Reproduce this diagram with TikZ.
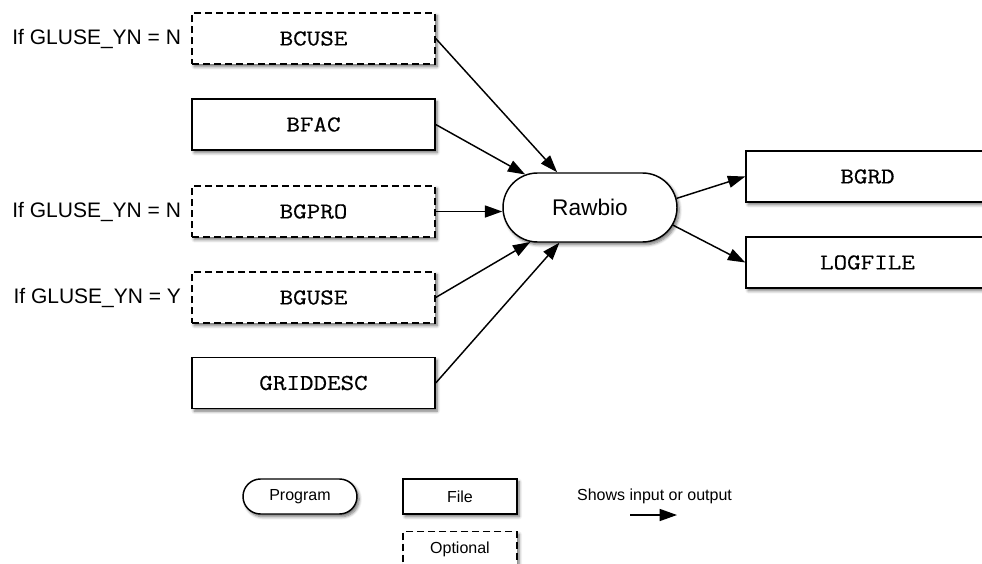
\documentclass[tikz,border=0pt]{standalone}
\usepackage{fontspec}
\setmainfont{Liberation Sans}
\newfontfamily\courfont[FakeStretch=1.16,FakeBold=0.6]{Latin Modern Mono}
\usetikzlibrary{shapes.misc,arrows.meta,shadows.blur}
\begin{document}
\begin{tikzpicture}[x=0.75pt,y=-0.75pt,
 shd/.style={blur shadow={shadow xshift=1.6pt,shadow yshift=-2pt,shadow blur steps=6,shadow opacity=55,shadow blur radius=2.2pt}},
 filebox/.style={draw,line width=1.1pt,fill=white,minimum width=182.25pt,minimum height=38.25pt,inner sep=0pt,font=\courfont\fontsize{17}{20}\selectfont,shd},
 optbox/.style={filebox,dash pattern=on 5.25pt off 3pt},
 prog/.style={rounded rectangle,draw,line width=1.1pt,fill=white,minimum width=130.5pt,minimum height=51.75pt,inner sep=0pt,font=\fontsize{17}{20}\selectfont,shd},
 cond/.style={anchor=east,inner sep=0pt,font=\fontsize{15.75}{18}\selectfont},
 legbox/.style={draw,line width=1.1pt,fill=white,minimum width=85.5pt,minimum height=26.25pt,inner sep=0pt,font=\fontsize{12}{14}\selectfont,shd},
 arr/.style={line width=1.1pt,-{Triangle[length=13pt,width=9pt]}}
]
\useasboundingbox (0,0) rectangle (982,564);

\node[optbox] (bcuse) at (313.5,38.5) {BCUSE};
\node[filebox] (bfac) at (313.5,124.5) {BFAC};
\node[optbox] (bgpro) at (313.5,211.5) {BGPRO};
\node[optbox] (bguse) at (313.5,297.5) {BGUSE};
\node[filebox] (griddesc) at (313.5,383) {GRIDDESC};

\node[cond] (c1) at ([xshift=-7.5pt]bcuse.west) {If GLUSE\_YN = N};
\node[cond] (c2) at ([xshift=-7.5pt]bgpro.west) {If GLUSE\_YN = N};
\node[cond] (c3) at ([xshift=-7.5pt]bguse.west) {If GLUSE\_YN = Y};

\node[prog] (rawbio) at (590,207.5) {Rawbio};

\node[filebox] (bgrd) at (867.5,176.5) {BGRD};
\node[filebox] (logfile) at (867.5,262.5) {LOGFILE};

\draw[arr] (bcuse.east) -- (rawbio.133);
\draw[arr] (bfac.east) -- (rawbio.153);
\draw[arr] (bgpro.east) -- (bgpro.east -| rawbio.west);
\draw[arr] (bguse.east) -- (rawbio.210);
\draw[arr] (griddesc.east) -- (rawbio.229);
\draw[arr] (rawbio.6) -- (bgrd.west);
\draw[arr] (rawbio.-12) -- (logfile.west);

% legend
\node[legbox,rounded rectangle] (lprog) at (300,496.5) {Program};
\node[legbox] (lfile) at (460,496.5) {File};
\node[legbox,dash pattern=on 5.25pt off 3pt] (lopt) at (460,549) {Optional};
\node[font=\fontsize{12}{14}\selectfont,inner sep=0pt] (shows) at (654.5,496.7) {Shows input or output};
\coordinate (a1) at (630,515);
\coordinate (a2) at (677,515);
\draw[arr] (a1) -- (a2);
\end{tikzpicture}
\end{document}
